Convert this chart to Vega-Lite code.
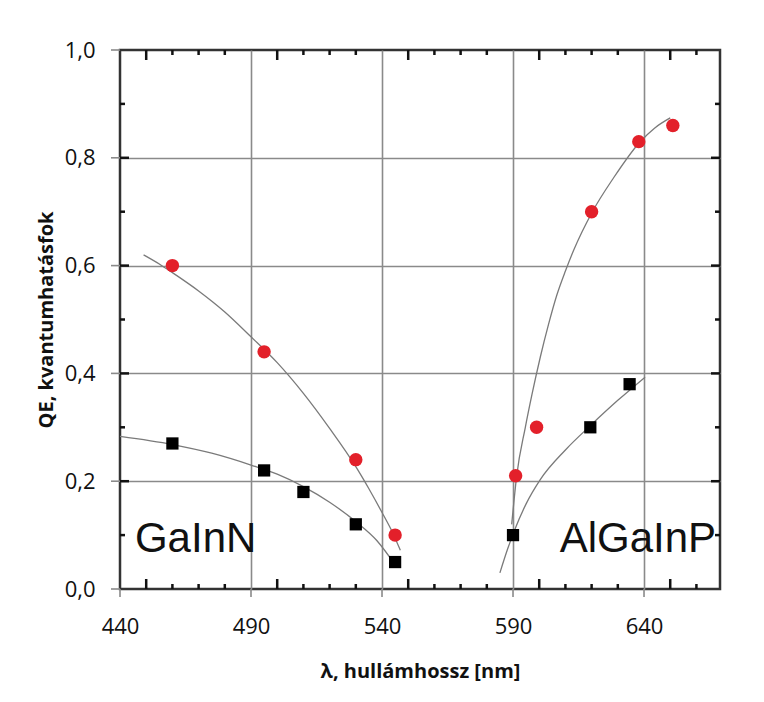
{
  "$schema": "https://vega.github.io/schema/vega-lite/v6.json",
  "width": 600,
  "height": 539,
  "autosize": {"type": "none"},
  "padding": {"left": 120, "top": 50, "right": 44, "bottom": 113},
  "background": "white",
  "config": {
    "view": {"stroke": "#333333", "strokeWidth": 2.5},
    "axis": {"domain": false, "ticks": false, "labelFont": "Open Sans", "titleFont": "Open Sans", "labelColor": "#111111", "titleColor": "#111111"}
  },
  "datasets": {
    "curvesG": [
      {"c": "g1", "x": 449, "y": 0.62}, {"c": "g1", "x": 455, "y": 0.603}, {"c": "g1", "x": 460, "y": 0.587}, {"c": "g1", "x": 470, "y": 0.553}, {"c": "g1", "x": 480, "y": 0.514}, {"c": "g1", "x": 490, "y": 0.468}, {"c": "g1", "x": 500, "y": 0.42}, {"c": "g1", "x": 510, "y": 0.363}, {"c": "g1", "x": 520, "y": 0.298}, {"c": "g1", "x": 530, "y": 0.227}, {"c": "g1", "x": 535, "y": 0.186}, {"c": "g1", "x": 540, "y": 0.142}, {"c": "g1", "x": 544, "y": 0.105}, {"c": "g1", "x": 547, "y": 0.072},
      {"c": "g2", "x": 440, "y": 0.283}, {"c": "g2", "x": 460, "y": 0.268}, {"c": "g2", "x": 475, "y": 0.252}, {"c": "g2", "x": 490, "y": 0.23}, {"c": "g2", "x": 500, "y": 0.213}, {"c": "g2", "x": 510, "y": 0.19}, {"c": "g2", "x": 520, "y": 0.161}, {"c": "g2", "x": 530, "y": 0.125}, {"c": "g2", "x": 538, "y": 0.09}, {"c": "g2", "x": 545, "y": 0.045},
      {"c": "a1", "x": 589.5, "y": 0.12}, {"c": "a1", "x": 591.4, "y": 0.21}, {"c": "a1", "x": 594.7, "y": 0.30}, {"c": "a1", "x": 597.2, "y": 0.36}, {"c": "a1", "x": 600.4, "y": 0.43}, {"c": "a1", "x": 603.5, "y": 0.49}, {"c": "a1", "x": 606.7, "y": 0.545}, {"c": "a1", "x": 610, "y": 0.59}, {"c": "a1", "x": 613.1, "y": 0.628}, {"c": "a1", "x": 620.3, "y": 0.70}, {"c": "a1", "x": 628.4, "y": 0.763}, {"c": "a1", "x": 638.2, "y": 0.828}, {"c": "a1", "x": 644, "y": 0.855}, {"c": "a1", "x": 650, "y": 0.874},
      {"c": "a2", "x": 585, "y": 0.03}, {"c": "a2", "x": 588, "y": 0.075}, {"c": "a2", "x": 590.5, "y": 0.108}, {"c": "a2", "x": 595, "y": 0.158}, {"c": "a2", "x": 600.4, "y": 0.203}, {"c": "a2", "x": 610, "y": 0.258}, {"c": "a2", "x": 619.5, "y": 0.303}, {"c": "a2", "x": 630, "y": 0.35}, {"c": "a2", "x": 640.4, "y": 0.393}
    ],
    "red": [
      {"x": 460, "y": 0.60}, {"x": 495, "y": 0.44}, {"x": 530, "y": 0.24}, {"x": 545, "y": 0.10},
      {"x": 591, "y": 0.21}, {"x": 599, "y": 0.30}, {"x": 620, "y": 0.70}, {"x": 638, "y": 0.83}, {"x": 651, "y": 0.86}
    ],
    "black": [
      {"x": 460, "y": 0.27}, {"x": 495, "y": 0.22}, {"x": 510, "y": 0.18}, {"x": 530, "y": 0.12}, {"x": 545, "y": 0.05},
      {"x": 590, "y": 0.10}, {"x": 619.5, "y": 0.30}, {"x": 634.5, "y": 0.38}
    ],
    "labelL": [{"x": 445.7, "y": 0.069, "t": "GaInN"}],
    "labelR": [{"x": 667.5, "y": 0.069, "t": "AlGaInP"}],
    "xLong": [{"v": 450}, {"v": 500}, {"v": 550}, {"v": 600}, {"v": 650}],
    "xShort": [{"v": 460}, {"v": 470}, {"v": 480}, {"v": 510}, {"v": 520}, {"v": 530}, {"v": 560}, {"v": 570}, {"v": 580}, {"v": 610}, {"v": 620}, {"v": 630}, {"v": 660}],
    "xOuter": [{"v": 440}, {"v": 490}, {"v": 540}, {"v": 590}, {"v": 640}],
    "yLong": [{"v": 0.2}, {"v": 0.4}, {"v": 0.6}, {"v": 0.8}],
    "yShort": [{"v": 0.1}, {"v": 0.3}, {"v": 0.5}, {"v": 0.7}, {"v": 0.9}],
    "yOuter": [{"v": 0}, {"v": 0.2}, {"v": 0.4}, {"v": 0.6}, {"v": 0.8}, {"v": 1}]
  },
  "layer": [
    {
      "data": {"name": "curvesG"},
      "mark": {"type": "line", "color": "#7a7a7a", "strokeWidth": 1.3, "interpolate": "monotone"},
      "encoding": {
        "x": {"field": "x", "type": "quantitative", "scale": {"domain": [440, 669], "nice": false, "zero": false},
          "axis": {"orient": "bottom", "title": "λ, hullámhossz [nm]", "titleFontSize": 20, "titleFontWeight": "bold", "titlePadding": 24,
            "values": [440, 490, 540, 590, 640],
            "labelFontSize": 22, "labelPadding": 27, "labelFlush": false, "labelOverlap": false,
            "grid": true, "gridColor": "#8a8a8a", "gridWidth": 1.6,
            "gridOpacity": {"condition": {"test": "datum.value > 441", "value": 1}, "value": 0}
          }},
        "y": {"field": "y", "type": "quantitative", "scale": {"domain": [0, 1], "nice": false, "zero": false},
          "axis": {"orient": "left", "title": "QE, kvantumhatásfok", "titleFontSize": 20, "titleFontWeight": "bold", "titlePadding": 8,
            "values": [0, 0.2, 0.4, 0.6, 0.8, 1],
            "labelExpr": "replace(format(datum.value, '.1f'), '.', ',')",
            "labelFontSize": 22, "labelPadding": 25, "labelFlush": false, "labelOverlap": false,
            "grid": true, "gridColor": "#8a8a8a", "gridWidth": 1.6,
            "gridOpacity": {"condition": {"test": "datum.value > 0.01 && datum.value < 0.99", "value": 1}, "value": 0}
          }},
        "detail": {"field": "c"}
      }
    },
    {
      "data": {"name": "xOuter"},
      "mark": {"type": "tick", "orient": "vertical", "size": 8, "thickness": 1.6, "color": "#8a8a8a", "opacity": 1, "yOffset": 4, "clip": false},
      "encoding": {"x": {"field": "v", "type": "quantitative"}, "y": {"datum": 0, "type": "quantitative"}}
    },
    {
      "data": {"name": "yOuter"},
      "mark": {"type": "tick", "orient": "horizontal", "size": 9, "thickness": 1.6, "color": "#8a8a8a", "opacity": 1, "xOffset": -4.5, "clip": false},
      "encoding": {"y": {"field": "v", "type": "quantitative"}, "x": {"datum": 440, "type": "quantitative"}}
    },
    {
      "data": {"name": "xLong"},
      "mark": {"type": "tick", "orient": "vertical", "size": 10, "thickness": 2.5, "color": "#111111", "opacity": 1, "yOffset": -5},
      "encoding": {"x": {"field": "v", "type": "quantitative"}, "y": {"datum": 0, "type": "quantitative"}}
    },
    {
      "data": {"name": "xLong"},
      "mark": {"type": "tick", "orient": "vertical", "size": 10, "thickness": 2.5, "color": "#111111", "opacity": 1, "yOffset": 5},
      "encoding": {"x": {"field": "v", "type": "quantitative"}, "y": {"datum": 1, "type": "quantitative"}}
    },
    {
      "data": {"name": "xShort"},
      "mark": {"type": "tick", "orient": "vertical", "size": 5, "thickness": 2.5, "color": "#111111", "opacity": 1, "yOffset": -2.5},
      "encoding": {"x": {"field": "v", "type": "quantitative"}, "y": {"datum": 0, "type": "quantitative"}}
    },
    {
      "data": {"name": "xShort"},
      "mark": {"type": "tick", "orient": "vertical", "size": 5, "thickness": 2.5, "color": "#111111", "opacity": 1, "yOffset": 2.5},
      "encoding": {"x": {"field": "v", "type": "quantitative"}, "y": {"datum": 1, "type": "quantitative"}}
    },
    {
      "data": {"name": "yLong"},
      "mark": {"type": "tick", "orient": "horizontal", "size": 9, "thickness": 2.5, "color": "#111111", "opacity": 1, "xOffset": 4.5},
      "encoding": {"y": {"field": "v", "type": "quantitative"}, "x": {"datum": 440, "type": "quantitative"}}
    },
    {
      "data": {"name": "yLong"},
      "mark": {"type": "tick", "orient": "horizontal", "size": 9, "thickness": 2.5, "color": "#111111", "opacity": 1, "xOffset": -4.5},
      "encoding": {"y": {"field": "v", "type": "quantitative"}, "x": {"datum": 669, "type": "quantitative"}}
    },
    {
      "data": {"name": "yShort"},
      "mark": {"type": "tick", "orient": "horizontal", "size": 5, "thickness": 2.5, "color": "#111111", "opacity": 1, "xOffset": 2.5},
      "encoding": {"y": {"field": "v", "type": "quantitative"}, "x": {"datum": 440, "type": "quantitative"}}
    },
    {
      "data": {"name": "yShort"},
      "mark": {"type": "tick", "orient": "horizontal", "size": 5, "thickness": 2.5, "color": "#111111", "opacity": 1, "xOffset": -2.5},
      "encoding": {"y": {"field": "v", "type": "quantitative"}, "x": {"datum": 669, "type": "quantitative"}}
    },
    {
      "data": {"name": "red"},
      "mark": {"type": "point", "shape": "circle", "filled": true, "color": "#e3202a", "size": 180, "opacity": 1},
      "encoding": {"x": {"field": "x", "type": "quantitative"}, "y": {"field": "y", "type": "quantitative"}}
    },
    {
      "data": {"name": "black"},
      "mark": {"type": "point", "shape": "square", "filled": true, "color": "#000000", "size": 150, "opacity": 1},
      "encoding": {"x": {"field": "x", "type": "quantitative"}, "y": {"field": "y", "type": "quantitative"}}
    },
    {
      "data": {"name": "labelL"},
      "mark": {"type": "text", "font": "Liberation Sans", "fontSize": 42, "color": "#111111", "baseline": "alphabetic", "align": "left"},
      "encoding": {"x": {"field": "x", "type": "quantitative"}, "y": {"field": "y", "type": "quantitative"}, "text": {"field": "t"}}
    },
    {
      "data": {"name": "labelR"},
      "mark": {"type": "text", "font": "Liberation Sans", "fontSize": 42, "color": "#111111", "baseline": "alphabetic", "align": "right"},
      "encoding": {"x": {"field": "x", "type": "quantitative"}, "y": {"field": "y", "type": "quantitative"}, "text": {"field": "t"}}
    }
  ]
}
